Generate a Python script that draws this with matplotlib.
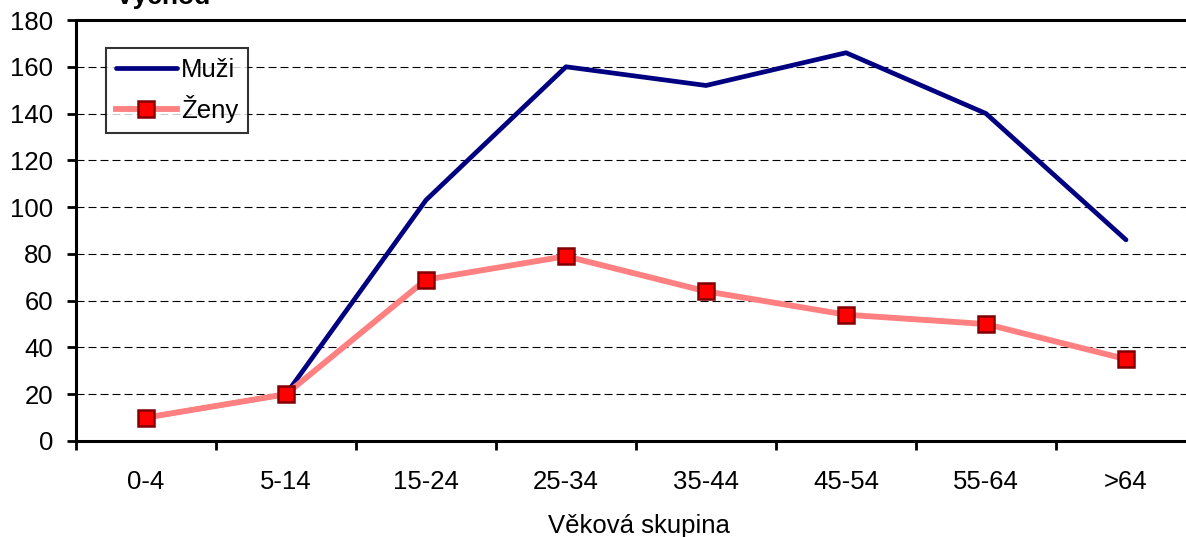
import matplotlib
matplotlib.use("Agg")
import matplotlib.pyplot as plt
from matplotlib.ticker import FixedLocator, NullFormatter, FixedFormatter

plt.rcParams['font.family'] = ['Liberation Sans', 'DejaVu Sans']

categories = ["0-4", "5-14", "15-24", "25-34", "35-44", "45-54", "55-64", ">64"]
muzi = [10, 20, 103, 160, 152, 166, 140, 86]
zeny = [10, 20, 69, 79, 64, 54, 50, 35]
yticks = [0, 20, 40, 60, 80, 100, 120, 140, 160, 180]

W, H = 1186, 537
FS = 18.5
fig = plt.figure(figsize=(W / 100, H / 100), dpi=100)
ax = fig.add_axes([76 / W, (H - 441) / H, 1120 / W, 421 / H])

x = list(range(len(categories)))
ax.plot(x, muzi, color='#000080', lw=3.4, label='Muži', zorder=3, solid_capstyle='round')
ax.plot(x, zeny, color='#FF8080', lw=4.2, marker='s', markersize=12,
        markerfacecolor='#FF0000', markeredgecolor='#800000', markeredgewidth=1.8,
        label='Ženy', zorder=4)

ax.set_xlim(-0.5, len(categories) - 0.5)
ax.set_ylim(0, 180)

ax.yaxis.set_major_locator(FixedLocator(yticks))
ax.yaxis.grid(True, linestyle=(0, (7.2, 3.6)), color='black', lw=0.8)
ax.set_axisbelow(True)
ax.tick_params(axis='y', direction='out', length=6.5, width=2, labelsize=FS, pad=10)

ax.xaxis.set_major_locator(FixedLocator([i - 0.5 for i in range(len(categories) + 1)]))
ax.xaxis.set_major_formatter(NullFormatter())
ax.xaxis.set_minor_locator(FixedLocator(x))
ax.xaxis.set_minor_formatter(FixedFormatter(categories))
ax.tick_params(axis='x', which='major', direction='out', length=6.5, width=2)
ax.tick_params(axis='x', which='minor', length=0, labelsize=FS, pad=21)

for s in ['left', 'bottom', 'top']:
    ax.spines[s].set_linewidth(2.2)
ax.spines['right'].set_visible(False)

ax.set_xlabel('Věková skupina', fontsize=FS)
ax.xaxis.set_label_coords(0.503, -0.174)

leg = ax.legend(loc='upper left', bbox_to_anchor=(30 / 1120, (441 - 48) / 421),
                fontsize=FS, frameon=True, fancybox=False, borderpad=0.4,
                handlelength=2.35, handletextpad=0.16, labelspacing=0.48,
                borderaxespad=0)
leg.get_frame().set_edgecolor('black')
leg.get_frame().set_linewidth(1.5)

fig.text(163 / W, 1 - 4 / H, 'Východ', fontsize=19, fontweight='bold',
         ha='center', va='baseline')

fig.savefig('out.png', dpi=100)
